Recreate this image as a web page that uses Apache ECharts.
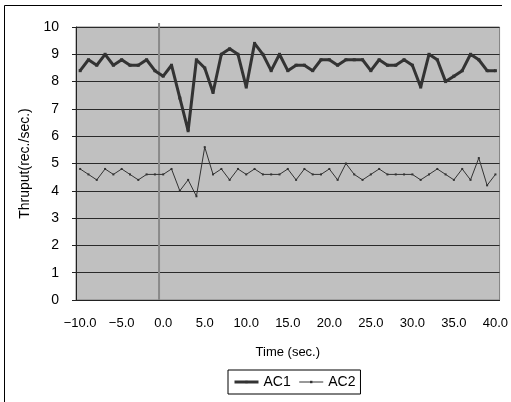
<!DOCTYPE html>
<html>
<head>
<meta charset="utf-8">
<script src="https://cdn.jsdelivr.net/npm/echarts@6/dist/echarts.min.js"></script>
<style>
  html, body { margin: 0; padding: 0; background: #fff; }
  #chart { width: 511px; height: 402px; }
</style>
</head>
<body>
<div id="chart"></div>
<script>
// time axis, one category per second
var times = [];
for (var t = -10; t <= 40; t++) times.push(t);

var ac1 = [8.4, 8.8, 8.6, 9.0, 8.6, 8.8, 8.6, 8.6, 8.8, 8.4,
           8.2, 8.6, 7.4, 6.2, 8.8, 8.5, 7.6, 9.0, 9.2, 9.0,
           7.8, 9.4, 9.0, 8.4, 9.0, 8.4, 8.6, 8.6, 8.4, 8.8,
           8.8, 8.6, 8.8, 8.8, 8.8, 8.4, 8.8, 8.6, 8.6, 8.8,
           8.6, 7.8, 9.0, 8.8, 8.0, 8.2, 8.4, 9.0, 8.8, 8.4, 8.4];

var ac2 = [4.8, 4.6, 4.4, 4.8, 4.6, 4.8, 4.6, 4.4, 4.6, 4.6,
           4.6, 4.8, 4.0, 4.4, 3.8, 5.6, 4.6, 4.8, 4.4, 4.8,
           4.6, 4.8, 4.6, 4.6, 4.6, 4.8, 4.4, 4.8, 4.6, 4.6,
           4.8, 4.4, 5.0, 4.6, 4.4, 4.6, 4.8, 4.6, 4.6, 4.6,
           4.6, 4.4, 4.6, 4.8, 4.6, 4.4, 4.8, 4.4, 5.2, 4.2, 4.6];

var seriesNames = ["AC1", "AC2"];
// gray divider between -1 and 0 sec.
var markerLine = [[-0.5, 0], [-0.5, 10.15]];
var font = "Liberation Sans, Arial, sans-serif";

var myChart = echarts.init(document.getElementById("chart"));
myChart.setOption({
  animation: false,
  textStyle: { fontFamily: font, color: "#000" },
  graphic: [
    {
      type: "polyline",
      shape: { points: [[4.5, 402], [4.5, 5.5], [502, 5.5]] },
      style: { stroke: "#000", lineWidth: 1, fill: null }
    }
  ],
  grid: {
    left: 76,
    top: 27,
    right: 4,
    bottom: 102,
    show: true,
    backgroundColor: "#c0c0c0",
    borderColor: "#808080",
    borderWidth: 1
  },
  legend: {
    data: [
      { name: seriesNames[0], lineStyle: { width: 3 } },
      { name: seriesNames[1], lineStyle: { width: 1 } }
    ],
    left: 228,
    top: 370,
    padding: [5, 5, 5, 5],
    borderColor: "#000",
    borderWidth: 1,
    itemGap: 8,
    itemWidth: 24,
    itemHeight: 3,
    textStyle: { fontSize: 14, fontFamily: font, color: "#000" }
  },
  xAxis: [
    {
      type: "category",
      data: times,
      boundaryGap: true,
      name: "Time (sec.)",
      nameLocation: "middle",
      nameGap: 46,
      nameTextStyle: { fontSize: 13, color: "#000" },
      axisLine: { onZero: false, lineStyle: { color: "#222", width: 1 } },
      axisTick: { inside: true, length: 5, interval: 4, lineStyle: { color: "#222" } },
      axisLabel: {
        interval: 4,
        margin: 17,
        fontSize: 13,
        color: "#000",
        formatter: function (v) {
          var n = Number(v);
          return (n < 0 ? "\u2212" : "") + Math.abs(n).toFixed(1);
        }
      },
      splitLine: { show: false }
    },
    {
      // hidden linear copy of the time axis, used for the divider line
      type: "value",
      min: -10.5,
      max: 40.5,
      show: false
    }
  ],
  yAxis: {
    type: "value",
    min: 0,
    max: 10,
    interval: 1,
    name: "Thruput(rec./sec.)",
    nameLocation: "middle",
    nameGap: 43,
    nameTextStyle: { fontSize: 14, color: "#000" },
    axisLine: { show: true, onZero: false, lineStyle: { color: "#222", width: 1 } },
    axisTick: { show: true, length: 4, lineStyle: { color: "#222" } },
    axisLabel: { fontSize: 14, margin: 17, color: "#000" },
    splitLine: { show: true, lineStyle: { color: "#2a2a2a", width: 1 } }
  },
  series: [
    {
      name: "divider",
      type: "line",
      xAxisIndex: 1,
      data: markerLine,
      symbol: "none",
      silent: true,
      clip: false,
      z: 1,
      lineStyle: { color: "#8a8a8a", width: 2 }
    },
    {
      name: seriesNames[0],
      type: "line",
      data: ac1,
      symbol: "rect",
      symbolSize: 3,
      color: "#333",
      z: 3,
      lineStyle: { color: "#333", width: 3 },
      itemStyle: { color: "#333" }
    },
    {
      name: seriesNames[1],
      type: "line",
      data: ac2,
      symbol: "rect",
      symbolSize: 2,
      color: "#333",
      z: 3,
      lineStyle: { color: "#333", width: 1 },
      itemStyle: { color: "#333" }
    }
  ]
});
</script>
</body>
</html>
